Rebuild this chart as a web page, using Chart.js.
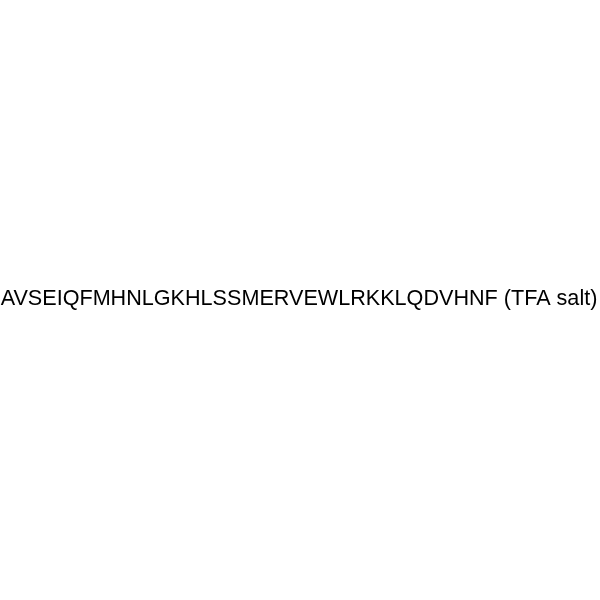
<!DOCTYPE html>
<html>
<head>
<meta charset="utf-8">
<script src="https://cdn.jsdelivr.net/npm/chart.js@4"></script>
<style>
html,body{margin:0;padding:0;background:#fff;}
#wrap{width:600px;height:600px;}
</style>
</head>
<body>
<div id="wrap"><canvas id="c" width="600" height="600"></canvas></div>
<script>
const sequence = ["AVSEIQFMHNLGKHLSSMERVEWLRKKLQDVHNF"];
const saltLabel = ["(TFA salt)"];
const values = [];

const labelPlugin = {
  id: 'centerLabel',
  afterDraw(chart) {
    const ctx = chart.ctx;
    ctx.save();
    ctx.fillStyle = '#000';
    ctx.font = '21.6px "Liberation Sans", Arial, sans-serif';
    ctx.textAlign = 'center';
    ctx.textBaseline = 'alphabetic';
    ctx.fillText(sequence[0] + ' ' + saltLabel[0], 299, 305);
    ctx.restore();
  }
};

new Chart(document.getElementById('c'), {
  type: 'bar',
  data: { labels: sequence, datasets: [{ data: values }] },
  options: {
    responsive: false,
    animation: false,
    plugins: { legend: { display: false }, tooltip: { enabled: false }, title: { display: false } },
    scales: { x: { display: false }, y: { display: false } }
  },
  plugins: [labelPlugin]
});
</script>
</body>
</html>
